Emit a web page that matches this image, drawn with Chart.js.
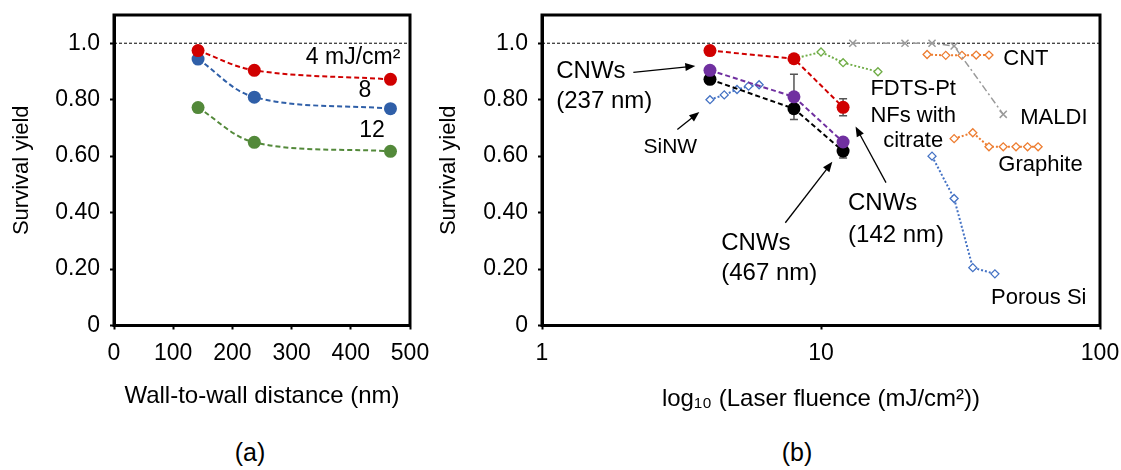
<!DOCTYPE html>
<html>
<head>
<meta charset="utf-8">
<script src="https://cdn.jsdelivr.net/npm/chart.js@4.4.1/dist/chart.umd.min.js"></script>
<style>
    body { margin: 0; background: #fff; width: 1121px; height: 470px; position: relative; overflow: hidden; font-family: "Liberation Sans", Arial, sans-serif; }
    #wrap-a { position: absolute; left: 0; top: 0; width: 445px; height: 420px; }
    #wrap-b { position: absolute; left: 420px; top: 0; width: 701px; height: 420px; }
    .panel { position: absolute; top: 437px; width: 100px; text-align: center; font-size: 25px; line-height: 30px; color: #000; }
</style>
</head>
<body>
<div id="wrap-a"><canvas id="chart-a"></canvas></div>
<div id="wrap-b"><canvas id="chart-b"></canvas></div>
<div class="panel" style="left:200px">(a)</div>
<div class="panel" style="left:747px">(b)</div>
<script>
// ---- shared axis values ----
const yTicks = [0, 0.2, 0.4, 0.6, 0.8, 1.0];
const yTickLabels = ['0', '0.20', '0.40', '0.60', '0.80', '1.0'];
const refYield = 1.0;

// ---- (a) survival yield vs wall-to-wall distance ----
const distances = [142, 237, 467];
const xTicksA = [0, 100, 200, 300, 400, 500];
const yield4 = [0.974, 0.904, 0.872];
const yield8 = [0.944, 0.809, 0.768];
const yield12 = [0.772, 0.649, 0.617];

// ---- (b) survival yield vs laser fluence ----
const xTicksB = [1, 10, 100];
const fluenceCNW = [4, 8, 12];
const cnw142 = [0.974, 0.945, 0.773];
const cnw237 = [0.904, 0.810, 0.650];
const cnw467 = [0.872, 0.768, 0.618];
const err142 = [0.01, 0, 0.03];
const err237 = [0, 0.08, 0];
const err467 = [0, 0, 0.025];

const sinwX = [4, 4.5, 5, 5.5, 6];
const sinwY = [0.80, 0.817, 0.836, 0.848, 0.853];
const fdtsX = [8, 10, 12, 16];
const fdtsY = [0.945, 0.969, 0.931, 0.899];
const maldiX = [13, 20, 25, 30, 45];
const maldiY = [1.0, 1.0, 1.0, 0.99, 0.748];
const cntX = [24, 28, 32, 36, 40];
const cntY = [0.96, 0.957, 0.957, 0.958, 0.958];
const graphiteX = [30, 35, 40, 45, 50, 55, 60];
const graphiteY = [0.662, 0.683, 0.633, 0.633, 0.633, 0.633, 0.633];
const porousX = [25, 30, 35, 42];
const porousY = [0.60, 0.45, 0.205, 0.183];

const FONT = '"Liberation Sans", Arial, sans-serif';
const PLOT_BOTTOM = 325.5;
const CANVAS_H = 420;

const pts = (xs, ys) => xs.map((x, i) => ({ x: x, y: ys[i] }));

// frame, 1.0 reference line, error bars, text notes and arrows
const extras = {
    id: 'extras',
    beforeDatasetsDraw(chart) {
        const { ctx, chartArea: a, scales } = chart;
        const y = scales.y.getPixelForValue(refYield);
        ctx.save();
        ctx.strokeStyle = '#000';
        ctx.lineWidth = 1;
        ctx.setLineDash([3, 2]);
        ctx.beginPath();
        ctx.moveTo(a.left, y);
        ctx.lineTo(a.right, y);
        ctx.stroke();
        ctx.setLineDash([]);
        // error bars
        ctx.strokeStyle = '#555';
        ctx.lineWidth = 1.5;
        chart.data.datasets.forEach((ds, di) => {
            if (!ds.errors) return;
            chart.getDatasetMeta(di).data.forEach((p, i) => {
                const e = ds.errors[i];
                if (!e) return;
                const y1 = scales.y.getPixelForValue(ds.data[i].y + e);
                const y2 = scales.y.getPixelForValue(ds.data[i].y - e);
                ctx.beginPath();
                ctx.moveTo(p.x, y1); ctx.lineTo(p.x, y2);
                ctx.moveTo(p.x - 4, y1); ctx.lineTo(p.x + 4, y1);
                ctx.moveTo(p.x - 4, y2); ctx.lineTo(p.x + 4, y2);
                ctx.stroke();
            });
        });
        ctx.restore();
    },
    afterDraw(chart, args, opts) {
        const { ctx, chartArea: a, scales } = chart;
        ctx.save();
        ctx.strokeStyle = '#000';
        ctx.lineWidth = 3;
        ctx.strokeRect(a.left, a.top, a.right - a.left, a.bottom - a.top);
        ctx.fillStyle = '#000';
        ctx.textBaseline = 'middle';
        (opts.texts || []).forEach(t => {
            ctx.font = `${t.size || 22}px ${FONT}`;
            ctx.textAlign = t.align || 'left';
            ctx.fillText(t.text, scales.x.getPixelForValue(t.x), scales.y.getPixelForValue(t.y));
        });
        ctx.lineWidth = 1.3;
        (opts.arrows || []).forEach(ar => {
            const x1 = scales.x.getPixelForValue(ar.from[0]), y1 = scales.y.getPixelForValue(ar.from[1]);
            const x2 = scales.x.getPixelForValue(ar.to[0]), y2 = scales.y.getPixelForValue(ar.to[1]);
            const ang = Math.atan2(y2 - y1, x2 - x1);
            ctx.beginPath();
            ctx.moveTo(x1, y1);
            ctx.lineTo(x2 - 6 * Math.cos(ang), y2 - 6 * Math.sin(ang));
            ctx.stroke();
            ctx.beginPath();
            ctx.moveTo(x2, y2);
            ctx.lineTo(x2 - 10 * Math.cos(ang) + 4 * Math.sin(ang), y2 - 10 * Math.sin(ang) - 4 * Math.cos(ang));
            ctx.lineTo(x2 - 10 * Math.cos(ang) - 4 * Math.sin(ang), y2 - 10 * Math.sin(ang) + 4 * Math.cos(ang));
            ctx.closePath();
            ctx.fill();
        });
        ctx.restore();
    }
};

function yAxis(width, titlePad) {
    return {
        min: 0, max: 1.1,
        afterBuildTicks: s => { s.ticks = yTicks.map(v => ({ value: v })); },
        afterFit: s => { s.width = width; s.paddingTop = 0; s.paddingBottom = 0; },
        ticks: { callback: (v, i) => yTickLabels[i], color: '#000', font: { family: FONT, size: 23 }, padding: 10 },
        grid: { drawOnChartArea: false, color: '#000', tickColor: '#000', tickLength: 4, tickWidth: 2 },
        border: { color: '#000', width: 3 },
        title: { display: true, text: 'Survival yield', color: '#000', font: { family: FONT, size: 22 }, padding: { top: titlePad, bottom: 0 } }
    };
}

function xAxis(type, min, max, tickVals, title, titlePad) {
    return {
        type: type, min: min, max: max,
        afterBuildTicks: s => { s.ticks = tickVals.map(v => ({ value: v })); },
        afterFit: s => { s.height = CANVAS_H - PLOT_BOTTOM; s.paddingLeft = 0; s.paddingRight = 0; },
        ticks: { callback: (v, i) => String(tickVals[i]), color: '#000', font: { family: FONT, size: 23 }, padding: 10, maxRotation: 0, autoSkip: false },
        grid: { drawOnChartArea: false, color: '#000', tickColor: '#000', tickLength: 4, tickWidth: 2 },
        border: { color: '#000', width: 3 },
        title: { display: true, text: title, color: '#000', font: { family: FONT, size: 24 }, padding: { top: 0, bottom: titlePad } }
    };
}

function cnwSet(xs, ys, color, smooth, errors) {
    return {
        data: pts(xs, ys), showLine: true, borderColor: color, backgroundColor: color,
        borderWidth: 2, borderDash: [5, 3], pointRadius: 6.5, pointBorderWidth: 0,
        tension: smooth ? 0.35 : 0, errors: errors
    };
}

function diamondSet(xs, ys, color) {
    return {
        data: pts(xs, ys), showLine: true, borderColor: color, backgroundColor: '#fff',
        borderWidth: 2, borderDash: [2, 2], pointStyle: 'rectRot', pointRadius: 4,
        pointBorderWidth: 1.3, tension: 0
    };
}

const RED = '#d00000', BLUE = '#2f5fa8', GREEN = '#53893a', PURPLE = '#7030a0';

new Chart(document.getElementById('chart-a'), {
    type: 'scatter',
    data: {
        datasets: [
            cnwSet(distances, yield4, RED, true),
            cnwSet(distances, yield8, BLUE, true),
            cnwSet(distances, yield12, GREEN, true)
        ]
    },
    options: {
        responsive: true, maintainAspectRatio: false, animation: false,
        layout: { padding: { top: 15, right: 35, left: 0, bottom: 0 } },
        scales: {
            x: xAxis('linear', 0, 500, xTicksA, 'Wall-to-wall distance (nm)', 9),
            y: yAxis(114, 9)
        },
        plugins: {
            legend: { display: false }, tooltip: { enabled: false },
            extras: {
                texts: [
                    { text: '4 mJ/cm²', x: 324, y: 0.95, size: 23 },
                    { text: '8', x: 424, y: 0.833, size: 23, align: 'center' },
                    { text: '12', x: 436, y: 0.691, size: 23, align: 'center' }
                ]
            }
        }
    },
    plugins: [extras]
});

new Chart(document.getElementById('chart-b'), {
    type: 'scatter',
    data: {
        datasets: [
            cnwSet(fluenceCNW, cnw142, RED, false, err142),
            cnwSet(fluenceCNW, cnw237, PURPLE, false, err237),
            cnwSet(fluenceCNW, cnw467, '#000', false, err467),
            diamondSet(sinwX, sinwY, '#4472c4'),
            diamondSet(fdtsX, fdtsY, '#70ad47'),
            {
                data: pts(maldiX, maldiY), showLine: true, borderColor: '#9a9a9a', backgroundColor: '#9a9a9a',
                borderWidth: 1.5, borderDash: [7, 3, 2, 3], pointStyle: 'crossRot', pointRadius: 5,
                pointBorderWidth: 1.5, tension: 0
            },
            diamondSet(cntX, cntY, '#ed7d31'),
            diamondSet(graphiteX, graphiteY, '#ed7d31'),
            diamondSet(porousX, porousY, '#4472c4')
        ]
    },
    options: {
        responsive: true, maintainAspectRatio: false, animation: false,
        layout: { padding: { top: 15, right: 21, left: 0, bottom: 0 } },
        scales: {
            x: xAxis('logarithmic', 1, 100, xTicksB, 'log₁₀ (Laser fluence (mJ/cm²))', 6),
            y: yAxis(122, 16)
        },
        plugins: {
            legend: { display: false }, tooltip: { enabled: false },
            extras: {
                texts: [
                    { text: 'CNWs', x: 1.125, y: 0.90, size: 24 },
                    { text: '(237 nm)', x: 1.125, y: 0.794, size: 24 },
                    { text: 'SiNW', x: 2.884, y: 0.631, size: 21, align: 'center' },
                    { text: 'FDTS-Pt', x: 21.4, y: 0.837, size: 22, align: 'center' },
                    { text: 'NFs with', x: 21.4, y: 0.744, size: 22, align: 'center' },
                    { text: 'citrate', x: 21.4, y: 0.655, size: 22, align: 'center' },
                    { text: 'CNT', x: 45.0, y: 0.943, size: 22 },
                    { text: 'MALDI', x: 51.8, y: 0.734, size: 22 },
                    { text: 'Graphite', x: 43.2, y: 0.57, size: 22 },
                    { text: 'Porous Si', x: 40.7, y: 0.098, size: 22 },
                    { text: 'CNWs', x: 12.5, y: 0.432, size: 24 },
                    { text: '(142 nm)', x: 12.5, y: 0.318, size: 24 },
                    { text: 'CNWs', x: 4.39, y: 0.29, size: 24 },
                    { text: '(467 nm)', x: 4.39, y: 0.186, size: 24 }
                ],
                arrows: [
                    { from: [2.125, 0.897], to: [3.544, 0.919] },
                    { from: [3.055, 0.694], to: [3.663, 0.756] },
                    { from: [17.1, 0.506], to: [13.3, 0.705] },
                    { from: [7.45, 0.364], to: [10.98, 0.58] }
                ]
            }
        }
    },
    plugins: [extras]
});
</script>
</body>
</html>
